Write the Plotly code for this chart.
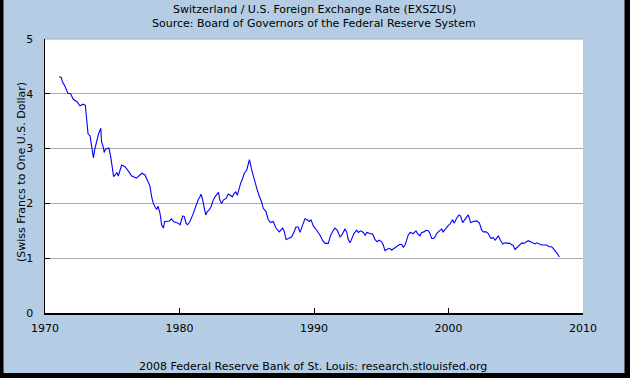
import plotly.graph_objects as go

# Decimal year / value pairs
years = [1971.04, 1971.2, 1971.3, 1971.5, 1971.7, 1971.9, 1972.1, 1972.36, 1972.6, 1972.85,
         1973.0, 1973.1, 1973.2, 1973.35, 1973.5, 1973.6, 1973.7, 1973.9, 1974.0, 1974.15,
         1974.2, 1974.35, 1974.4, 1974.5, 1974.75, 1974.9, 1975.0, 1975.1, 1975.35, 1975.45,
         1975.7, 1975.95, 1976.2, 1976.45, 1976.8, 1977.06, 1977.2, 1977.43, 1977.6, 1977.8,
         1977.93, 1978.05, 1978.18, 1978.3, 1978.4, 1978.55, 1978.67, 1978.8, 1978.9, 1979.05,
         1979.25, 1979.4, 1979.55, 1979.74, 1979.9, 1980.04, 1980.16, 1980.24, 1980.36, 1980.48,
         1980.6, 1980.78, 1980.98, 1981.15, 1981.28, 1981.4, 1981.52, 1981.6, 1981.7, 1981.82,
         1981.95, 1982.07, 1982.2, 1982.35, 1982.5, 1982.64, 1982.76, 1982.9, 1983.0, 1983.14,
         1983.26, 1983.46, 1983.63, 1983.8, 1983.93, 1984.05, 1984.18, 1984.3, 1984.42, 1984.55,
         1984.7, 1984.82, 1985.0, 1985.1, 1985.2, 1985.37, 1985.6, 1985.74, 1985.93, 1986.1,
         1986.23, 1986.43, 1986.6, 1986.78, 1986.97, 1987.17, 1987.42, 1987.67, 1987.8, 1987.92,
         1988.1, 1988.34, 1988.5, 1988.66, 1988.83, 1988.96, 1989.13, 1989.33, 1989.5, 1989.65,
         1989.78, 1989.95, 1990.2, 1990.45, 1990.65, 1990.82, 1991.06, 1991.24, 1991.44, 1991.56,
         1991.73, 1991.93, 1992.06, 1992.18, 1992.3, 1992.43, 1992.55, 1992.68, 1992.8, 1992.97,
         1993.17, 1993.3, 1993.47, 1993.67, 1993.8, 1993.92, 1994.16, 1994.36, 1994.54, 1994.7,
         1994.85, 1995.03, 1995.15, 1995.28, 1995.4, 1995.6, 1995.78, 1995.95, 1996.15, 1996.35,
         1996.52, 1996.64, 1996.77, 1996.9, 1997.0, 1997.14, 1997.38, 1997.58, 1997.7, 1997.88,
         1998.0, 1998.18, 1998.33, 1998.5, 1998.62, 1998.75, 1998.87, 1999.0, 1999.12, 1999.32,
         1999.5, 1999.6, 1999.8, 1999.99, 2000.1, 2000.3, 2000.43, 2000.6, 2000.78, 2000.9,
         2001.05, 2001.23, 2001.47, 2001.65, 2001.85, 2002.1, 2002.3, 2002.47, 2002.6, 2002.8,
         2002.96, 2003.1, 2003.2, 2003.33, 2003.46, 2003.58, 2003.7, 2003.83, 2004.03, 2004.2,
         2004.4, 2004.57, 2004.7, 2004.8, 2004.94, 2005.1, 2005.32, 2005.45, 2005.6, 2005.76,
         2005.93, 2006.1, 2006.26, 2006.43, 2006.56, 2006.75, 2006.93, 2007.1, 2007.3, 2007.5,
         2007.67, 2007.84, 2008.0, 2008.1, 2008.24]

rates = [4.31, 4.30, 4.22, 4.13, 4.01, 4.00, 3.90, 3.86, 3.78, 3.81,
         3.79, 3.58, 3.27, 3.23, 2.97, 2.83, 2.99, 3.19, 3.28, 3.37,
         3.13, 3.01, 2.93, 2.99, 3.01, 2.83, 2.61, 2.49, 2.56, 2.50,
         2.70, 2.67, 2.59, 2.50, 2.46, 2.52, 2.55, 2.52, 2.43, 2.32,
         2.12, 2.00, 1.94, 1.89, 1.95, 1.82, 1.61, 1.55, 1.67, 1.68,
         1.68, 1.72, 1.67, 1.65, 1.64, 1.61, 1.70, 1.77, 1.76, 1.64,
         1.61, 1.67, 1.79, 1.91, 2.00, 2.07, 2.12, 2.17, 2.09, 1.97,
         1.79, 1.85, 1.88, 1.94, 2.06, 2.12, 2.15, 2.20, 2.06, 2.00,
         2.06, 2.09, 2.17, 2.15, 2.12, 2.18, 2.21, 2.15, 2.28, 2.37,
         2.46, 2.55, 2.61, 2.73, 2.80, 2.61, 2.37, 2.28, 2.13, 2.03,
         1.91, 1.85, 1.70, 1.65, 1.67, 1.55, 1.48, 1.55, 1.48, 1.34,
         1.36, 1.39, 1.47, 1.57, 1.57, 1.47, 1.59, 1.72, 1.70, 1.67,
         1.70, 1.59, 1.51, 1.42, 1.32, 1.27, 1.27, 1.42, 1.51, 1.55,
         1.51, 1.39, 1.42, 1.48, 1.53, 1.48, 1.34, 1.28, 1.34, 1.45,
         1.51, 1.47, 1.50, 1.47, 1.42, 1.47, 1.45, 1.44, 1.34, 1.30,
         1.33, 1.30, 1.24, 1.14, 1.16, 1.18, 1.15, 1.18, 1.21, 1.25,
         1.25, 1.20, 1.24, 1.33, 1.42, 1.47, 1.45, 1.50, 1.45, 1.41,
         1.47, 1.48, 1.51, 1.50, 1.45, 1.36, 1.36, 1.39, 1.45, 1.50,
         1.53, 1.48, 1.55, 1.60, 1.62, 1.70, 1.64, 1.73, 1.79, 1.77,
         1.65, 1.71, 1.79, 1.65, 1.67, 1.68, 1.64, 1.51, 1.48, 1.48,
         1.45, 1.38, 1.36, 1.38, 1.33, 1.36, 1.41, 1.34, 1.26, 1.28,
         1.28, 1.27, 1.24, 1.24, 1.16, 1.20, 1.24, 1.28, 1.27, 1.30,
         1.32, 1.30, 1.28, 1.26, 1.28, 1.26, 1.24, 1.24, 1.24, 1.21,
         1.21, 1.16, 1.12, 1.08, 1.02]

x_ticks = [1970, 1980, 1990, 2000, 2010]
y_ticks = [0, 1, 2, 3, 4, 5]

title_line1 = "Switzerland / U.S. Foreign Exchange Rate (EXSZUS)"
title_line2 = "Source: Board of Governors of the Federal Reserve System"
y_title = "(Swiss Francs to One U.S. Dollar)"
footer = "2008 Federal Reserve Bank of St. Louis: research.stlouisfed.org"

W, H = 630, 378
L, R, T, B = 45, 583, 39, 313  # plot area in pixels
pw, ph = R - L, B - T

def px(xpix):
    return (xpix - L) / pw

def py(ypix):
    return (B - ypix) / ph

FONT = "DejaVu Sans"
BG = "#b4cde4"

fig = go.Figure()
fig.add_trace(go.Scatter(x=years, y=rates, mode="lines",
                         line=dict(color="#0000ff", width=1.1),
                         hoverinfo="skip", showlegend=False))

fig.update_layout(
    width=W, height=H,
    margin=dict(l=L, r=W - R, t=T, b=H - B, pad=0),
    paper_bgcolor=BG, plot_bgcolor="white",
    font=dict(family=FONT, size=11, color="black"),
    showlegend=False,
)
fig.update_xaxes(range=[1970, 2010], tickvals=x_ticks, ticktext=[str(v) for v in x_ticks],
                 ticks="inside", ticklen=5, tickcolor="black", tickwidth=1,
                 showline=True, linecolor="black", linewidth=1.5, showgrid=False,
                 zeroline=False, ticklabelstandoff=4,
                 tickfont=dict(family=FONT, size=11, color="black"))
fig.update_yaxes(range=[0, 5], tickvals=y_ticks, ticktext=[str(v) for v in y_ticks],
                 ticks="inside", ticklen=5, tickcolor="black", tickwidth=1,
                 showline=True, linecolor="black", linewidth=1.5,
                 showgrid=True, gridcolor="#aaaaaa", gridwidth=1,
                 zeroline=False, ticklabelstandoff=8,
                 tickfont=dict(family=FONT, size=11, color="black"))

annotations = [
    dict(text=title_line1, x=0.5, xref="paper", y=py(9), yref="paper",
         xanchor="center", yanchor="middle", showarrow=False,
         font=dict(family=FONT, size=11, color="black")),
    dict(text=title_line2, x=0.5, xref="paper", y=py(23), yref="paper",
         xanchor="center", yanchor="middle", showarrow=False,
         font=dict(family=FONT, size=11, color="black")),
    dict(text=y_title, x=px(21), xref="paper", y=py(172), yref="paper",
         xanchor="center", yanchor="middle", textangle=-90, showarrow=False,
         font=dict(family=FONT, size=11, color="black")),
    dict(text=footer, x=px(313), xref="paper", y=py(366), yref="paper",
         xanchor="center", yanchor="middle", showarrow=False,
         font=dict(family=FONT, size=11, color="black")),
]
fig.update_layout(annotations=annotations)

# top grid line at 5 and black frame bands
shapes = [
    dict(type="line", xref="paper", yref="paper", x0=0, x1=1, y0=1, y1=1,
         line=dict(color="#aaaaaa", width=1), layer="below"),
    dict(type="rect", xref="paper", yref="paper", x0=px(-10), x1=px(3.5), y0=py(-10), y1=py(400),
         fillcolor="black", line=dict(width=0), layer="above"),
    dict(type="rect", xref="paper", yref="paper", x0=px(624.5), x1=px(640), y0=py(-10), y1=py(400),
         fillcolor="black", line=dict(width=0), layer="above"),
    dict(type="rect", xref="paper", yref="paper", x0=px(-10), x1=px(640), y0=py(373), y1=py(400),
         fillcolor="black", line=dict(width=0), layer="above"),
]
fig.update_layout(shapes=shapes)

fig.write_html("out.html", config={"displayModeBar": False, "staticPlot": True},
               post_script="document.body.style.margin='0';document.body.style.overflow='hidden';")
